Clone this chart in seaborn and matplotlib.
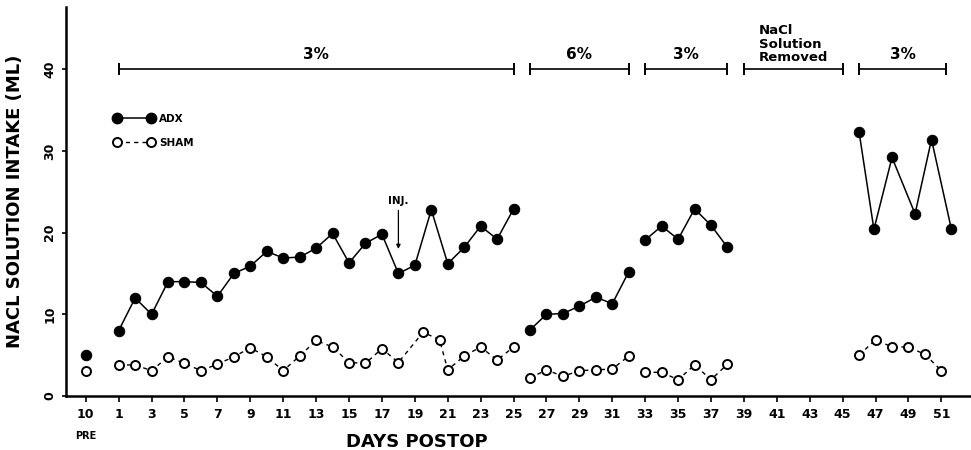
"""NaCl solution intake of ADX vs SHAM rats by postoperative day"""

import matplotlib.pyplot as plt
import matplotlib.transforms as mtransforms
from matplotlib.lines import Line2D
import pandas as pd
import seaborn as sns

# Pre-op value (plotted at position -1, labelled "10 / PRE")
pre_day = [-1]
adx_pre = [5.0]
sham_pre = [3.0]

# 3% period, days 1-25
days_a = list(range(1, 26))
adx_a = [8, 12, 10, 14, 14, 13.9, 12.2, 15, 15.9, 17.7, 16.9, 17, 18.1,
         19.9, 16.3, 18.7, 19.8, 15, 16, 22.8, 16.2, 18.2, 20.8, 19.2, 22.9]
sham_days_a = list(range(1, 19)) + [19.5, 20.5] + list(range(21, 26))
sham_a = [3.8, 3.8, 3.1, 4.8, 4.0, 3.1, 3.9, 4.8, 5.9, 4.8, 3.1, 4.9, 6.8,
          6.0, 4.1, 4.0, 5.8, 4.1, 7.8, 6.9, 3.2, 4.9, 6.0, 4.4, 6.0]

# 6% period, days 26-32
days_b = list(range(26, 33))
adx_b = [8.1, 10.0, 10.1, 11.0, 12.1, 11.3, 15.2]
sham_b = [2.2, 3.2, 2.4, 3.1, 3.2, 3.3, 4.9]

# 3% period, days 33-38
days_c = list(range(33, 39))
adx_c = [19.1, 20.8, 19.2, 22.9, 20.9, 18.2]
sham_c = [2.9, 2.9, 2.0, 3.8, 2.0, 3.9]

# 3% period, days 46-51
adx_days_d = [46, 46.9, 48, 49.4, 50.4, 51.6]
adx_d = [32.3, 20.4, 29.2, 22.3, 31.4, 20.5]
sham_days_d = list(range(46, 52))
sham_d = [5.0, 6.9, 6.0, 6.0, 5.1, 3.1]

# Bracket annotations along the top
bracket_start = [1, 26, 33, 39, 46]
bracket_end = [25, 32, 38, 45, 51.3]
bracket_labels = ["3%", "6%", "3%", "NaCl\nSolution\nRemoved", "3%"]

tick_days = [-1] + list(range(1, 52, 2))
tick_labels = ["10"] + [str(d) for d in range(1, 52, 2)]


def build_frame(segments, group):
    rows = []
    for seg_id, (days, vals) in enumerate(segments):
        for d, v in zip(days, vals):
            rows.append({"day": d, "intake": v, "segment": seg_id, "group": group})
    return pd.DataFrame(rows)


adx_df = build_frame(
    [(pre_day, adx_pre), (days_a, adx_a), (days_b, adx_b), (days_c, adx_c),
     (adx_days_d, adx_d)], "ADX")
sham_df = build_frame(
    [(pre_day, sham_pre), (sham_days_a, sham_a), (days_b, sham_b),
     (days_c, sham_c), (sham_days_d, sham_d)], "SHAM")

sns.set_style("ticks", rc={
    "text.color": "black", "axes.labelcolor": "black",
    "xtick.color": "black", "ytick.color": "black",
    "axes.edgecolor": "black",
})
plt.rcParams["font.family"] = ["DejaVu Sans"]
plt.rcParams["font.weight"] = "bold"

fig = plt.figure(figsize=(9.71, 4.5), dpi=100)
ax = fig.add_axes([0.068, 0.12, 0.932, 0.864])

sns.lineplot(
    data=adx_df, x="day", y="intake", units="segment", estimator=None,
    ax=ax, color="black", linewidth=1.1, marker="o", markersize=7.5,
    markerfacecolor="black", markeredgecolor="black", sort=False,
)
sns.lineplot(
    data=sham_df, x="day", y="intake", units="segment", estimator=None,
    ax=ax, color="black", linewidth=1.0, linestyle=(0, (3, 3)), marker="o",
    markersize=6.5, markerfacecolor="white", markeredgecolor="black",
    markeredgewidth=1.4, sort=False,
)

# brackets
for start, end, label in zip(bracket_start, bracket_end, bracket_labels):
    ax.plot([start, end], [40, 40], color="black", linewidth=1.2,
            marker="|", markersize=9, markeredgewidth=1.4)
    if "\n" in label:
        ax.text((start + end) / 2, 40.6, label, ha="center", va="bottom",
                multialignment="left", fontsize=9.5, fontweight="bold",
                linespacing=1.05)
    else:
        ax.text((start + end) / 2, 40.9, label, ha="center", va="bottom",
                fontsize=11, fontweight="heavy")

# injection marker
ax.annotate("INJ.", xy=(18, 18.0), xytext=(18, 23.3), ha="center",
            va="bottom", fontsize=7.5, fontweight="bold",
            arrowprops=dict(arrowstyle="-|>", color="black", lw=0.9,
                            mutation_scale=6, shrinkA=1, shrinkB=0))

legend_handles = [
    Line2D([], [], color="black", linewidth=1.1, marker="o", markersize=7.5,
           markerfacecolor="black"),
    Line2D([], [], color="black", linewidth=1.0, linestyle=(0, (3, 3)),
           marker="o", markersize=6.5, markerfacecolor="white",
           markeredgewidth=1.4),
]
ax.legend(legend_handles, ["ADX", "SHAM"], loc="upper left",
          bbox_to_anchor=(0.043, 0.75), frameon=False, numpoints=2,
          handlelength=3.8, labelspacing=1.35, handletextpad=0.5,
          prop={"weight": "bold", "size": 7.5})

ax.set_xlim(-2.2, 52.8)
ax.set_ylim(0, 47.6)
ax.set_xticks(tick_days, tick_labels)
ax.set_yticks([0, 10, 20, 30, 40])
ax.tick_params(axis="x", labelsize=9, length=4, width=1.2, pad=5)
ax.tick_params(axis="y", labelsize=9, length=3, width=1.2, pad=4,
               labelrotation=90)
for lbl in ax.get_yticklabels():
    lbl.set_va("center")
for lbl in ax.get_xticklabels() + ax.get_yticklabels():
    lbl.set_fontweight("heavy")

trans = mtransforms.blended_transform_factory(ax.transData, ax.transAxes)
ax.text(-1, -0.09, "PRE", transform=trans, ha="center", va="top",
        fontsize=7, fontweight="heavy")

ax.set_ylabel("NACL SOLUTION INTAKE (ML)", fontsize=13, fontweight="heavy")
ax.yaxis.set_label_coords(-0.046, 0.5)
ax.set_xlabel("DAYS POSTOP", fontsize=13, fontweight="heavy")
ax.xaxis.set_label_coords(0.388, -0.095)

sns.despine(ax=ax)
for side in ["left", "bottom"]:
    ax.spines[side].set_linewidth(1.8)

plt.savefig("out.png", dpi=100)
plt.close()
